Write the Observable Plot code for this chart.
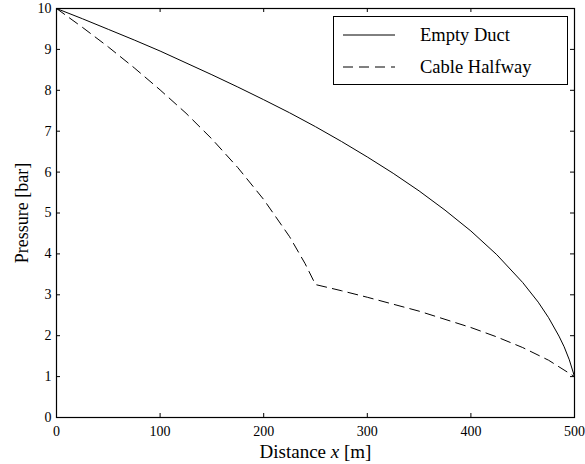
<!DOCTYPE html>
<html>
<head>
<meta charset="utf-8">
<script src="https://cdn.jsdelivr.net/npm/d3@7"></script>
<script src="https://cdn.jsdelivr.net/npm/@observablehq/plot@0.6"></script>
<style>
  body { margin: 0; background: #fff; }
  #wrap { position: relative; width: 585px; height: 464px; }
  #wrap svg text { font-family: "Liberation Serif", "Times New Roman", Times, "DejaVu Serif", serif !important; }
  #legend { position: absolute; left: 333px; top: 16px; width: 233px; height: 67px; border: 1px solid #000; background: #fff; }
</style>
</head>
<body>
<div id="wrap"></div>
<script>
// Distance along the duct [m]
const emptyX = [0, 25, 50, 75, 100, 125, 150, 175, 200, 225, 250, 275, 300, 325, 350, 375, 400, 425, 450, 465, 475, 485, 490, 495, 500];
// Pressure [bar], empty duct
const emptyP = [10, 9.75, 9.49, 9.23, 8.96, 8.67, 8.38, 8.08, 7.77, 7.45, 7.11, 6.75, 6.37, 5.97, 5.54, 5.07, 4.56, 3.98, 3.30, 2.82, 2.44, 1.99, 1.73, 1.41, 1.00];
// Cable halfway
const cableX = [0, 25, 50, 75, 100, 125, 150, 175, 200, 225, 240, 250, 275, 300, 325, 350, 375, 400, 425, 450, 475, 500];
const cableP = [10, 9.54, 9.06, 8.55, 8.01, 7.44, 6.81, 6.11, 5.33, 4.42, 3.76, 3.25, 3.10, 2.94, 2.77, 2.60, 2.40, 2.20, 1.97, 1.71, 1.40, 1.00];

const xTicks = [0, 100, 200, 300, 400, 500];
const yTicks = [0, 1, 2, 3, 4, 5, 6, 7, 8, 9, 10];
const seriesNames = ["Empty Duct", "Cable Halfway"];
const xLabel = "Distance x [m]";
const yLabel = "Pressure [bar]";

const emptyData = emptyX.map((x, i) => ({x, p: emptyP[i]}));
const cableData = cableX.map((x, i) => ({x, p: cableP[i]}));

const W = 585, H = 464, mL = 56, mR = 11, mT = 8, mB = 47;
const pw = W - mL - mR, ph = H - mT - mB, tk = 4;
const serif = '"Liberation Serif", "Times New Roman", Times, "DejaVu Serif", serif';

const chart = Plot.plot({
  width: W, height: H,
  marginLeft: mL, marginRight: mR, marginTop: mT, marginBottom: mB,
  style: {fontFamily: serif, color: "#000", background: "#fff"},
  x: {domain: [0, 500], axis: null},
  y: {domain: [0, 10], axis: null},
  marks: [
    Plot.axisX(xTicks, {anchor: "bottom", tickSize: 0, tickPadding: 9, fontSize: 14, label: null}),
    Plot.axisY(yTicks, {anchor: "left", tickSize: 0, tickPadding: 5, fontSize: 14, label: null}),
    Plot.tickX(xTicks, {x: d => d, insetTop: ph - tk, stroke: "#000"}),
    Plot.tickX(xTicks, {x: d => d, insetBottom: ph - tk, stroke: "#000"}),
    Plot.tickY(yTicks, {y: d => d, insetRight: pw - tk, stroke: "#000"}),
    Plot.tickY(yTicks, {y: d => d, insetLeft: pw - tk, stroke: "#000"}),
    Plot.line(emptyData, {x: "x", y: "p", stroke: "#000", strokeWidth: 1}),
    Plot.line(cableData, {x: "x", y: "p", stroke: "#000", strokeWidth: 1, strokeDasharray: "10,6"}),
    Plot.frame({stroke: "#000", strokeWidth: 1.2}),
    Plot.text([xLabel], {text: d => d, frameAnchor: "bottom", lineAnchor: "middle", textAnchor: "middle", dy: 34, fontSize: 19, fill: "#000"}),
    Plot.text([yLabel], {text: d => d, frameAnchor: "left", lineAnchor: "middle", textAnchor: "middle", dx: -34, rotate: -90, fontSize: 18, fill: "#000"})
  ]
});

// italic x in the x-axis label
d3.select(chart).selectAll("text").each(function() {
  if (this.textContent === xLabel) {
    this.textContent = "";
    const t = d3.select(this);
    t.append("tspan").text("Distance ");
    t.append("tspan").attr("font-style", "italic").text("x");
    t.append("tspan").text(" [m]");
  }
});

const wrap = document.getElementById("wrap");
wrap.appendChild(chart);

// legend inside the axes (top-right)
const legend = document.createElement("div");
legend.id = "legend";
const ls = d3.create("svg").attr("width", 233).attr("height", 67);
const rows = [{name: seriesNames[0], dash: null, y: 18}, {name: seriesNames[1], dash: "10,6", y: 50}];
rows.forEach(r => {
  ls.append("line").attr("x1", 9).attr("x2", 61).attr("y1", r.y).attr("y2", r.y)
    .attr("stroke", "#000").attr("stroke-width", 1).attr("stroke-dasharray", r.dash);
  ls.append("text").attr("x", 86).attr("y", r.y).attr("dy", "0.32em")
    .attr("font-family", serif)
    .attr("font-size", 18.5).attr("fill", "#000").text(r.name);
});
legend.appendChild(ls.node());
wrap.appendChild(legend);
</script>
</body>
</html>
